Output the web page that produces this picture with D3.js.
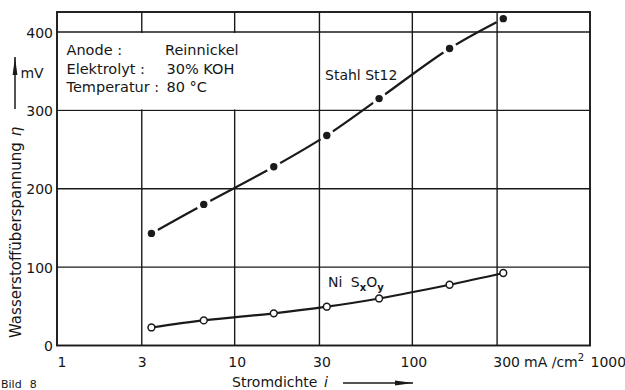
<!DOCTYPE html>
<html>
<head>
<meta charset="utf-8">
<script src="https://cdn.jsdelivr.net/npm/d3@7"></script>
<style>
  html, body { margin: 0; padding: 0; background: #fff; }
  svg { display: block; }
  text { font-family: "DejaVu Sans", sans-serif; fill: #161616; }
</style>
</head>
<body>
<svg id="chart" width="625" height="390"></svg>
<script>
// ---- data ----
const currentDensity = [3.4, 6.7, 16.6, 33, 65, 162, 325];          // mA/cm²
const stahlSt12      = [143, 180, 228, 268, 315, 379, 417];          // mV
const niSxOy         = [23, 32, 41, 49.5, 60, 77.5, 92.5];           // mV
const xTicks = [1, 3, 10, 30, 100, 300, 1000];
const yTicks = [0, 100, 200, 300, 400];
const infoLabels = ["Anode :", "Elektrolyt :", "Temperatur :"];
const infoValues = ["Reinnickel", "30% KOH", "80 °C"];

// ---- layout ----
const svg = d3.select("#chart");
const L = 57, R = 590, T = 12, B = 345.5;
const x = d3.scaleLog().domain([1, 1000]).range([L, R]);
const y = d3.scaleLinear().domain([0, 425.5]).range([B, T]);
const ink = "#1a1a1a";

// grid
const g = svg.append("g");
g.selectAll(".vg").data(xTicks.slice(1, -1)).join("line")
  .attr("x1", d => x(d)).attr("x2", d => x(d)).attr("y1", T).attr("y2", B)
  .attr("stroke", ink).attr("stroke-width", 1.4);
g.selectAll(".hg").data(yTicks.slice(1)).join("line")
  .attr("x1", L).attr("x2", R).attr("y1", d => y(d)).attr("y2", d => y(d))
  .attr("stroke", ink).attr("stroke-width", 1.4);

// info box (blank cells behind text)
svg.append("rect").attr("x", L + 1).attr("y", y(400) + 1)
  .attr("width", x(30) - L - 2).attr("height", y(300) - y(400) - 2)
  .attr("fill", "#fff");

// frame
svg.append("rect").attr("x", L).attr("y", T).attr("width", R - L).attr("height", B - T)
  .attr("fill", "none").attr("stroke", ink).attr("stroke-width", 1.9);

// axes tick labels
const xLabelDx = { 1: 4.5, 3: 0, 10: 2, 30: 2, 100: 1, 300: 9 };
const xa = svg.append("g").attr("transform", `translate(0,${B})`)
  .call(d3.axisBottom(x).tickValues(xTicks).tickSize(0).tickFormat(d3.format("d")));
xa.select(".domain").remove();
xa.selectAll("text")
  .attr("font-size", 14).attr("font-family", "DejaVu Sans").attr("fill", ink)
  .attr("y", 21.5).attr("dy", 0)
  .attr("dx", d => xLabelDx[d] !== undefined ? xLabelDx[d] : 0)
  .attr("text-anchor", d => d === 1000 ? "start" : "middle");

const ya = svg.append("g").attr("transform", `translate(${L},0)`)
  .call(d3.axisLeft(y).tickValues(yTicks).tickSize(0).tickFormat(d3.format("d")));
ya.select(".domain").remove();
ya.selectAll("text")
  .attr("font-size", 14).attr("font-family", "DejaVu Sans").attr("fill", ink)
  .attr("x", -4).attr("dy", "0.36em");

// unit label
const unit = svg.append("text").attr("x", 524).attr("y", 367).attr("font-size", 14);
unit.append("tspan").text("mA /cm");
unit.append("tspan").attr("font-size", 10).attr("dy", -6).text("2");

// x title + arrow
const xt = svg.append("text").attr("x", 232).attr("y", 387).attr("font-size", 14);
xt.append("tspan").text("Stromdichte ");
xt.append("tspan").attr("font-style", "italic").attr("dx", 2).text("i");
const defs = svg.append("defs");
defs.append("marker").attr("id", "arr").attr("viewBox", "0 0 18 6")
  .attr("refX", 18).attr("refY", 3).attr("markerWidth", 18).attr("markerHeight", 6)
  .attr("markerUnits", "userSpaceOnUse").attr("orient", "auto")
  .append("path").attr("d", "M0,0.6 L18,3 L0,5.4 Z").attr("fill", ink);
svg.append("line").attr("x1", 343).attr("x2", 413).attr("y1", 383).attr("y2", 383)
  .attr("stroke", ink).attr("stroke-width", 1.5).attr("marker-end", "url(#arr)");

// y title + arrow
const yt = svg.append("text").attr("transform", "translate(21,338) rotate(-90)")
  .attr("font-size", 15);
yt.append("tspan").text("Wasserstoffüberspannung");
yt.append("tspan").attr("dx", 6).attr("font-style", "italic").text("η");
svg.append("line").attr("x1", 15).attr("x2", 15).attr("y1", 109).attr("y2", 57)
  .attr("stroke", ink).attr("stroke-width", 1.5).attr("marker-end", "url(#arr)");
svg.append("text").attr("x", 32).attr("y", 78).attr("text-anchor", "middle")
  .attr("font-size", 14).text("mV");

// info text
const rowsY = [55, 73.5, 92];
infoLabels.forEach((t, i) => {
  svg.append("text").attr("x", 66.5).attr("y", rowsY[i])
    .attr("font-family", "DejaVu Sans Condensed").attr("font-size", 14.5).text(t);
  svg.append("text").attr("x", i === 0 ? 165 : 166.5).attr("y", rowsY[i])
    .attr("font-family", "DejaVu Sans Condensed").attr("font-size", 14.5).text(infoValues[i]);
});

// curves
const curve = d3.line().curve(d3.curveCatmullRom.alpha(0.5));
const stPts = currentDensity.map((c, i) => [x(c), y(stahlSt12[i])]);
const niPts = currentDensity.map((c, i) => [x(c), y(niSxOy[i])]);

// mask to leave gaps round the filled points
const mask = defs.append("mask").attr("id", "gapmask").attr("maskUnits", "userSpaceOnUse")
  .attr("x", 0).attr("y", 0).attr("width", 625).attr("height", 390);
mask.append("rect").attr("width", 625).attr("height", 390).attr("fill", "#fff");
mask.selectAll("circle").data(stPts).join("circle")
  .attr("cx", d => d[0]).attr("cy", d => d[1]).attr("r", 7.5).attr("fill", "#000");

svg.append("path").attr("d", curve(stPts)).attr("fill", "none")
  .attr("stroke", ink).attr("stroke-width", 2.2).attr("mask", "url(#gapmask)");
svg.selectAll(".st").data(stPts).join("circle")
  .attr("cx", d => d[0]).attr("cy", d => d[1]).attr("r", 3.7).attr("fill", ink);

svg.append("path").attr("d", curve(niPts)).attr("fill", "none")
  .attr("stroke", ink).attr("stroke-width", 2.2);
svg.selectAll(".ni").data(niPts).join("circle")
  .attr("cx", d => d[0]).attr("cy", d => d[1]).attr("r", 3.4)
  .attr("fill", "#fff").attr("stroke", ink).attr("stroke-width", 1.5);

// series labels
svg.append("text").attr("x", 325).attr("y", 80).attr("font-size", 14).text("Stahl St12");
const ni = svg.append("text").attr("x", 328).attr("y", 287).attr("font-size", 14);
ni.append("tspan").text("Ni ");
ni.append("tspan").attr("dx", 4).text("S");
ni.append("tspan").attr("font-size", 10).attr("font-weight", "bold").attr("dy", 4).text("x");
ni.append("tspan").attr("dy", -4).text("O");
ni.append("tspan").attr("font-size", 10).attr("font-weight", "bold").attr("dy", 4).text("y");

// caption at lower left
const cap = svg.append("text").attr("x", 1).attr("y", 388).attr("font-size", 11);
cap.append("tspan").text("Bild");
cap.append("tspan").attr("dx", 8).text("8");
</script>
</body>
</html>
